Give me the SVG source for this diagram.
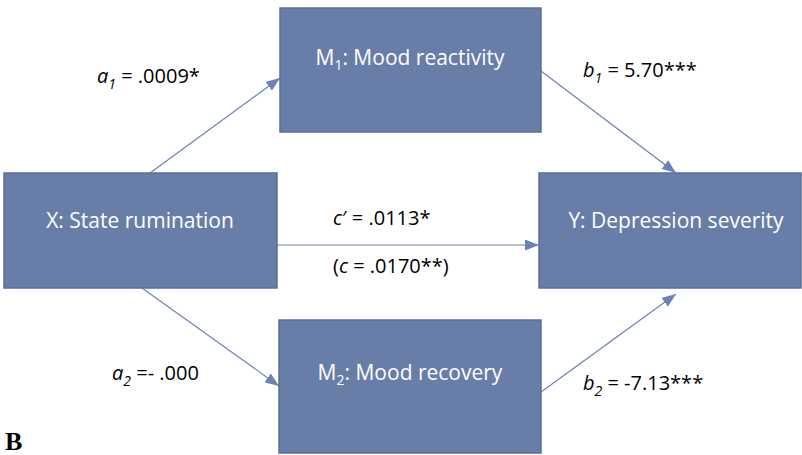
<svg xmlns="http://www.w3.org/2000/svg" width="802" height="455" viewBox="0 0 802 455">
<style>
.node{fill:#687ea8;stroke:#5b6f98;stroke-width:1.5}
.nt{font-family:"Open Sans","Liberation Sans",sans-serif;font-size:21px;fill:#ffffff;text-anchor:middle}
.lb{font-family:"Open Sans","Liberation Sans",sans-serif;font-size:20px;fill:#000000}
.edge{stroke:#6a82b4;stroke-width:1.2;fill:none;marker-end:url(#ah)}
</style>
<defs>
<marker id="ah" viewBox="0 0 14 11" refX="14" refY="5.5" markerWidth="14" markerHeight="11" markerUnits="userSpaceOnUse" orient="auto">
<path d="M0,0 L14,5.5 L0,11 Z" fill="#6a82b4"/>
</marker>
</defs>
<rect width="802" height="455" fill="#ffffff"/>
<g id="connectors">
<line class="edge" x1="150" y1="173" x2="280" y2="78"/>
<line class="edge" x1="541" y1="71" x2="676" y2="173"/>
<line class="edge" x1="277" y1="245" x2="539" y2="245"/>
<line class="edge" x1="142" y1="288" x2="279" y2="386"/>
<line class="edge" x1="541" y1="392" x2="676" y2="294"/>
</g>
<g id="node-m1">
<rect class="node" x="280" y="8" width="261" height="124"/>
<text class="nt" x="410" y="65">M<tspan font-size="14" dy="5">1</tspan><tspan dy="-5">: Mood reactivity</tspan></text>
</g>
<g id="node-x">
<rect class="node" x="4" y="173" width="273" height="115"/>
<text class="nt" x="140" y="228">X: State rumination</text>
</g>
<g id="node-y">
<rect class="node" x="539" y="173" width="262" height="115"/>
<text class="nt" x="676" y="228">Y: Depression severity</text>
</g>
<g id="node-m2">
<rect class="node" x="279" y="320" width="262" height="133"/>
<text class="nt" x="410" y="380">M<tspan font-size="14" dy="5">2</tspan><tspan dy="-5">: Mood recovery</tspan></text>
</g>
<g id="labels">
<text class="lb" x="97" y="83"><tspan font-style="italic">a</tspan><tspan font-style="italic" font-size="14" dy="6">1</tspan><tspan dy="-6"> = .0009*</tspan></text>
<text class="lb" x="583" y="77"><tspan font-style="italic">b</tspan><tspan font-style="italic" font-size="14" dy="6">1</tspan><tspan dy="-6"> = 5.70***</tspan></text>
<text class="lb" x="333" y="225"><tspan font-style="italic">c</tspan>′ = .0113*</text>
<text class="lb" x="333" y="273">(<tspan font-style="italic">c</tspan> = .0170**)</text>
<text class="lb" x="112" y="380"><tspan font-style="italic">a</tspan><tspan font-style="italic" font-size="14" dy="6">2</tspan><tspan dy="-6"> =- .000</tspan></text>
<text class="lb" x="583" y="390"><tspan font-style="italic">b</tspan><tspan font-style="italic" font-size="14" dy="6">2</tspan><tspan dy="-6"> = -7.13***</tspan></text>
<text x="5" y="450" font-family="'Liberation Serif',serif" font-weight="bold" font-size="26">B</text>
</g>
</svg>
